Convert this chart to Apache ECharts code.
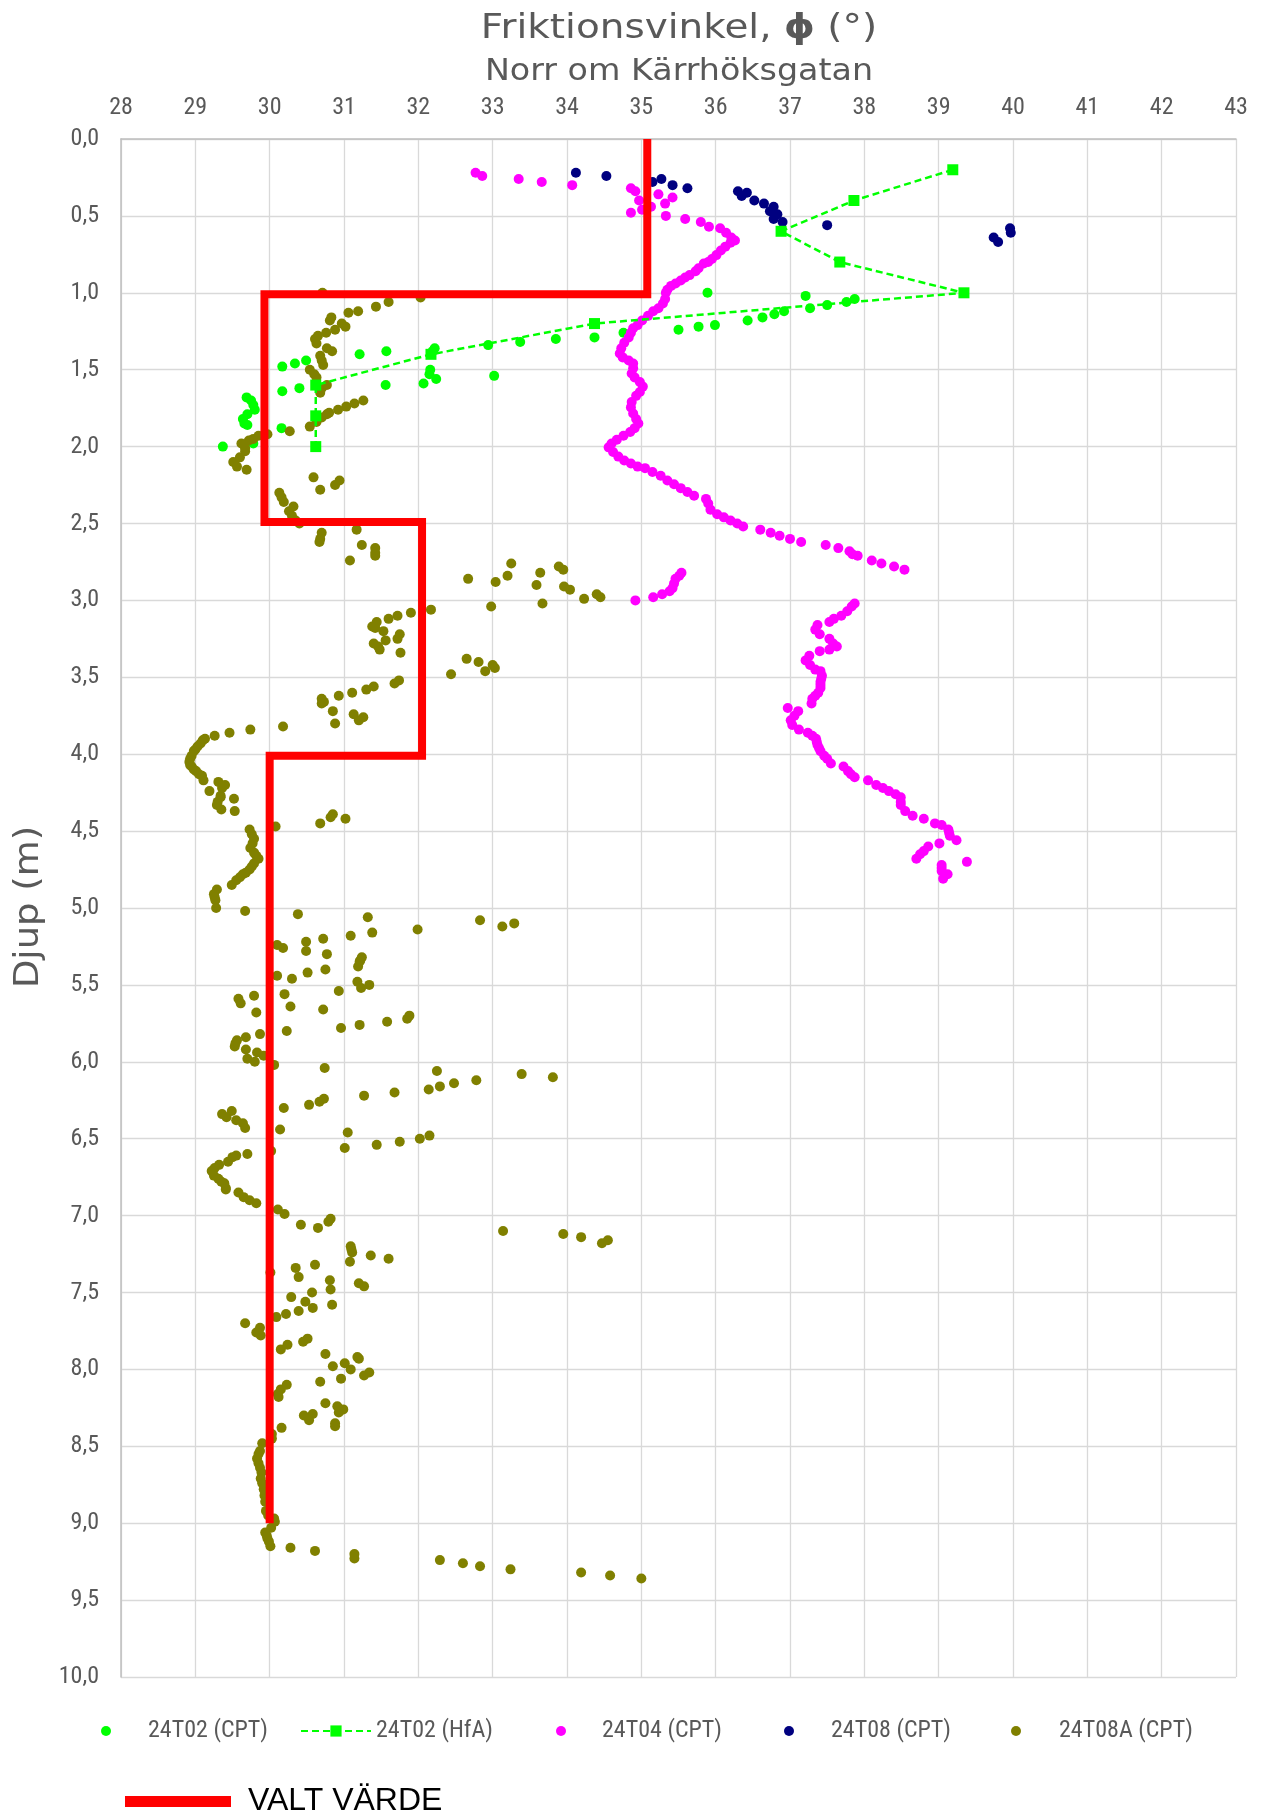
<!DOCTYPE html>
<html>
<head>
<meta charset="utf-8">
<script src="https://cdn.jsdelivr.net/npm/echarts@6/dist/echarts.min.js"></script>
<style>
html,body{margin:0;padding:0;background:#fff;}
#c{width:1262px;height:1812px;}
</style>
</head>
<body>
<div id="c"></div>
<script>
// ---- tick settings ----
const phiMin = 28, phiMax = 43, phiStep = 1;
const depthMin = 0, depthMax = 10, depthStep = 0.5;

// ---- series values: [phi (deg), depth (m)] ----
const t02CPT = [[35.89,1.00],[37.21,1.02],[37.87,1.04],[37.76,1.06],[37.50,1.08],[37.27,1.10],[36.92,1.12],[36.79,1.14],[36.63,1.16],[36.43,1.18],[35.99,1.21],[35.77,1.22],[35.50,1.24],[34.76,1.26],[34.37,1.29],[33.85,1.30],[33.37,1.32],[32.94,1.34],[32.22,1.36],[32.19,1.38],[31.57,1.38],[31.21,1.40],[30.49,1.44],[30.34,1.46],[30.17,1.48],[32.16,1.50],[32.15,1.53],[33.02,1.54],[32.24,1.56],[32.07,1.59],[31.56,1.60],[30.40,1.62],[30.17,1.64],[29.69,1.68],[29.75,1.70],[29.78,1.73],[29.80,1.76],[29.70,1.79],[29.64,1.82],[29.66,1.85],[29.70,1.86],[30.16,1.88],[29.78,1.98],[29.37,2.00]];

const hfaDepth = [0.2,0.4,0.6,0.8,1.0,1.2,1.4,1.6,1.8,2.0];
const hfaPhi = [39.19,37.86,36.88,37.67,39.34,34.37,32.17,30.62,30.62,30.62];

const t04CPT = [[32.77,0.22],[32.86,0.24],[33.35,0.26],[33.66,0.28],[34.07,0.30],[34.86,0.32],[34.92,0.34],[35.23,0.36],[35.42,0.38],[34.97,0.40],[35.32,0.42],[35.13,0.44],[35.01,0.46],[34.86,0.48],[35.33,0.50],[35.59,0.52],[35.80,0.54],[35.91,0.57],[36.06,0.58],[36.14,0.61],[36.21,0.64],[36.26,0.66],
[36.20,0.675],[36.13,0.70],[36.07,0.725],[36.01,0.755],[35.95,0.78],[35.90,0.80],[35.84,0.81],[35.77,0.84],[35.73,0.86],[35.65,0.885],[35.59,0.90],[35.53,0.92],[35.46,0.94],[35.40,0.955],[35.35,0.98],[35.33,1.00],[35.32,1.04],[35.29,1.07],[35.23,1.10],[35.16,1.12],[35.09,1.15],[35.01,1.18],[34.95,1.21],[34.89,1.23],[34.86,1.26],[34.83,1.29],[34.77,1.325],[34.73,1.36],[34.71,1.395],[34.75,1.42],[34.83,1.44],[34.89,1.46],[34.89,1.49],[34.87,1.525],[34.91,1.55],[34.98,1.58],[35.02,1.61],[34.98,1.645],[34.93,1.67],[34.87,1.71],[34.86,1.745],[34.89,1.785],[34.93,1.82],[34.96,1.85],[34.91,1.88],[34.85,1.905],[34.76,1.93],[34.67,1.955],[34.60,1.98],[34.56,2.005],[34.62,2.035],[34.69,2.065],[34.77,2.09],[34.86,2.11],[34.95,2.13],[35.05,2.14],[35.15,2.165],[35.26,2.19],[35.35,2.22],[35.44,2.245],[35.53,2.27],[35.62,2.295],[35.71,2.32],[35.87,2.34],[35.90,2.37],[35.93,2.41],[36.02,2.44],[36.11,2.46],[36.20,2.48],[36.29,2.50],[36.37,2.52],
[36.60,2.54],[36.74,2.56],[36.86,2.58],[37.00,2.60],[37.15,2.62],[37.48,2.64],[37.65,2.66],[37.80,2.68],[37.84,2.70],[37.91,2.71],[38.10,2.74],[38.23,2.76],[38.40,2.78],[38.54,2.80],
[35.54,2.82],[35.51,2.84],[35.46,2.86],[35.44,2.89],[35.42,2.92],[35.38,2.94],[35.28,2.96],[35.16,2.98],[34.92,3.00],
[37.87,3.02],[37.83,3.04],[37.77,3.07],[37.69,3.10],[37.59,3.12],[37.53,3.14],[37.37,3.16],[37.34,3.19],[37.40,3.22],[37.53,3.25],[37.58,3.28],[37.63,3.30],[37.53,3.32],[37.40,3.33],[37.26,3.36],[37.21,3.39],[37.27,3.42],[37.34,3.45],[37.41,3.46],[37.43,3.49],[37.42,3.51],[37.41,3.53],[37.41,3.55],[37.41,3.57],[37.38,3.60],[37.34,3.62],[37.30,3.64],[37.29,3.67],[36.97,3.70],[37.11,3.72],[37.06,3.75],[37.01,3.78],[37.03,3.81],[37.12,3.84],[37.24,3.86],[37.30,3.88],[37.35,3.90],[37.36,3.92],[37.37,3.94],[37.39,3.96],[37.41,3.98],[37.46,4.01],[37.50,4.03],[37.55,4.06],[37.72,4.08],[37.78,4.11],[37.82,4.13],[37.87,4.15],[38.05,4.17],[38.16,4.20],[38.25,4.22],[38.33,4.24],[38.42,4.26],[38.49,4.28],[38.49,4.31],[38.49,4.33],[38.55,4.37],[38.65,4.40],[38.80,4.42],[38.95,4.45],[39.04,4.46],[39.13,4.49],[39.14,4.51],[39.15,4.53],[39.24,4.56],[39.01,4.58],[38.86,4.60],[38.80,4.63],[38.75,4.65],[38.70,4.68],[39.38,4.70],[39.04,4.72],[39.04,4.74],[39.04,4.76],[39.12,4.78],[39.06,4.81]];

const t08CPT = [[34.12,0.22],[34.53,0.24],[35.15,0.28],[35.27,0.26],[35.42,0.30],[35.62,0.32],[36.30,0.34],[36.35,0.37],[36.42,0.35],[36.52,0.40],[36.65,0.42],[36.78,0.44],[36.73,0.47],[36.83,0.49],[36.78,0.52],[36.90,0.54],[37.50,0.56],[39.74,0.64],[39.80,0.67],[39.96,0.58],[39.97,0.61]];

const t08ACPT = [[30.71,1.00],[32.03,1.03],[31.60,1.06],[31.43,1.09],[31.19,1.12],[31.06,1.13],[30.83,1.16],[30.81,1.18],[30.97,1.20],[31.02,1.22],[30.88,1.24],[30.76,1.26],[30.65,1.28],[30.61,1.30],[30.63,1.33],[30.77,1.36],[30.84,1.38],[30.68,1.41],[30.70,1.44],[30.72,1.47],[30.54,1.50],[30.60,1.53],[30.63,1.55],[30.77,1.60],[30.70,1.62],[30.68,1.65],[31.26,1.70],[31.14,1.72],[31.03,1.74],[30.92,1.76],[30.80,1.78],[30.77,1.79],[30.70,1.81],[30.63,1.84],[30.54,1.87],[30.27,1.90],[29.97,1.92],[29.85,1.93],[29.78,1.95],[29.72,1.96],[29.62,1.98],[29.67,2.01],[29.67,2.03],[29.60,2.07],[29.51,2.10],[29.56,2.13],[29.69,2.15],[30.59,2.20],[30.94,2.22],[30.88,2.25],[30.68,2.28],[30.13,2.30],[30.16,2.33],[30.19,2.36],[30.32,2.39],[30.26,2.42],[30.30,2.45],[30.35,2.48],[30.40,2.50],[31.17,2.54],[30.70,2.56],[30.68,2.60],[30.67,2.62],[31.24,2.64],[31.42,2.66],[31.42,2.69],[31.42,2.71],[31.08,2.74],
[33.25,2.76],[33.89,2.78],[33.95,2.80],[33.64,2.82],[33.20,2.84],[32.67,2.86],[33.04,2.88],[33.59,2.90],[33.96,2.91],[34.04,2.93],[34.40,2.96],[34.45,2.98],[34.23,2.99],[33.67,3.02],[32.98,3.04],
[32.17,3.06],[31.90,3.08],[31.72,3.10],[31.60,3.12],[31.44,3.14],[31.38,3.17],[31.42,3.18],[31.53,3.20],[31.75,3.22],[31.72,3.25],[31.56,3.26],[31.40,3.28],[31.46,3.30],[31.48,3.32],[31.76,3.34],
[32.65,3.38],[32.81,3.40],[33.00,3.42],[33.03,3.44],[32.90,3.46],[32.44,3.48],
[31.74,3.52],[31.68,3.54],[31.40,3.56],[31.30,3.58],[31.11,3.60],[30.93,3.62],[30.70,3.64],[30.73,3.66],[30.70,3.67],[30.85,3.72],[31.13,3.74],[31.26,3.76],[31.20,3.78],[30.88,3.80],
[30.18,3.82],[29.74,3.84],[29.46,3.86],[29.26,3.88],[29.13,3.90],[29.10,3.91],[29.07,3.93],[29.03,3.95],[29.00,3.97],[28.98,3.98],[28.95,4.01],[28.93,4.03],[28.92,4.05],[28.93,4.07],[28.95,4.08],[28.98,4.10],[29.01,4.11],[29.05,4.13],[29.09,4.14],[29.11,4.17],[29.31,4.18],[29.40,4.20],[29.36,4.22],[29.19,4.24],[29.34,4.27],[29.34,4.28],[29.52,4.29],[29.30,4.31],[29.29,4.33],[29.35,4.36],[29.53,4.37],
[30.85,4.39],[30.82,4.41],[31.02,4.42],[30.68,4.45],[30.08,4.47],
[29.73,4.49],[29.76,4.52],[29.79,4.55],[29.77,4.58],[29.74,4.61],[29.79,4.64],[29.82,4.66],[29.85,4.68],[29.79,4.71],[29.76,4.73],[29.73,4.75],[29.68,4.77],[29.64,4.78],[29.60,4.80],[29.55,4.82],[29.49,4.85],[29.29,4.88],[29.25,4.91],[29.26,4.93],[29.27,4.95],[29.28,5.00],[29.67,5.02],
[30.38,5.04],[31.32,5.06],[32.83,5.08],[33.29,5.10],[33.13,5.12],[31.99,5.14],[31.38,5.16],[31.09,5.18],[30.72,5.20],[30.49,5.22],[30.10,5.24],[30.18,5.26],[30.49,5.28],[30.77,5.30],[31.24,5.32],[31.22,5.34],[31.21,5.35],[31.19,5.38],[30.75,5.40],[30.51,5.42],[30.10,5.44],[30.30,5.46],[31.18,5.48],[31.34,5.50],[31.23,5.52],[30.93,5.54],[30.20,5.56],[29.79,5.57],[29.58,5.59],
[29.61,5.62],[30.28,5.64],[30.72,5.66],[29.82,5.68],[31.88,5.70],[31.85,5.72],[31.58,5.74],[31.21,5.76],[30.96,5.78],[30.23,5.80],[29.87,5.82],[29.68,5.84],[29.56,5.86],[29.54,5.88],[29.53,5.90],[29.68,5.92],[29.83,5.94],[29.92,5.96],[29.70,5.98],[29.80,6.00],[30.06,6.02],[30.74,6.04],
[32.25,6.06],[33.39,6.08],[33.81,6.10],[32.78,6.12],[32.48,6.14],[32.29,6.16],[32.14,6.18],[31.68,6.20],[31.27,6.22],[30.73,6.24],[30.67,6.26],[30.53,6.28],[30.19,6.30],[29.49,6.32],[29.36,6.34],[29.42,6.36],[29.55,6.38],[29.64,6.40],[29.67,6.43],[30.14,6.44],[31.05,6.46],
[32.15,6.48],[32.02,6.50],[31.75,6.52],[31.44,6.54],[31.01,6.56],
[30.02,6.58],[29.70,6.60],[29.55,6.61],[29.50,6.62],[29.44,6.65],[29.32,6.67],[29.26,6.69],[29.22,6.71],[29.25,6.74],[29.31,6.76],[29.35,6.78],[29.39,6.79],[29.41,6.82],[29.41,6.83],[29.58,6.85],[29.65,6.88],[29.73,6.90],[29.82,6.92],[30.11,6.96],[30.20,6.99],
[30.82,7.02],[30.79,7.04],[30.42,7.06],[30.65,7.08],[33.14,7.10],[33.95,7.12],[34.19,7.14],[34.55,7.16],[34.47,7.18],
[31.09,7.20],[31.10,7.22],[31.11,7.24],[31.36,7.26],[31.60,7.28],[31.08,7.30],[30.61,7.32],[30.35,7.34],[30.01,7.37],[30.39,7.40],[30.81,7.42],[31.20,7.44],[31.27,7.46],[30.82,7.48],[30.57,7.50],[30.29,7.53],[30.48,7.56],[30.84,7.58],[30.58,7.60],[30.39,7.62],[30.22,7.64],[30.09,7.66],
[29.67,7.70],[29.87,7.73],[29.82,7.76],[29.88,7.78],[30.51,7.80],[30.45,7.82],[30.24,7.84],[30.15,7.87],[30.75,7.90],[31.18,7.92],[31.20,7.93],[31.01,7.96],[30.85,7.98],[31.09,8.00],[31.34,8.02],[31.27,8.04],[30.96,8.06],[30.68,8.08],[30.23,8.10],[30.15,8.13],[30.11,8.16],
[30.12,8.18],[30.75,8.22],[30.91,8.24],[30.99,8.26],[30.93,8.28],[30.58,8.29],[30.46,8.30],[30.53,8.33],[30.88,8.35],[30.88,8.37],[30.16,8.38],[30.03,8.42],[30.03,8.45],[29.90,8.48],
[29.87,8.53],[29.85,8.55],[29.83,8.58],[29.85,8.61],[29.87,8.64],[29.89,8.67],[29.88,8.71],[29.90,8.74],[29.92,8.78],[29.93,8.82],[29.94,8.86],[29.95,8.92],[29.98,8.95],[30.06,8.97],[30.07,8.99],
[30.02,9.03],[29.94,9.06],[29.96,9.08],[29.97,9.10],[29.99,9.12],[30.01,9.15],[30.28,9.16],[30.61,9.18],[31.14,9.20],[31.14,9.23],[32.29,9.24],[32.60,9.26],[32.83,9.28],[33.24,9.30],[34.19,9.32],[34.58,9.34],[35.00,9.36]];

// chosen design value (VALT VÄRDE) polyline
const valtPhi   = [35.08, 35.08, 29.93, 29.93, 32.05, 32.05, 30.00, 30.00];
const valtDepth = [0.00,  1.01,  1.01,  2.49,  2.49,  4.01,  4.01,  9.00];

// ---- build ----
const FONT = "'Liberation Sans Narrow', 'Roboto Condensed', Roboto, sans-serif";
const TFONT = "'DejaVu Sans', sans-serif";
const GREY = '#595959';
const zip = (xs, ys) => xs.map((x, i) => [x, ys[i]]);

const chart = echarts.init(document.getElementById('c'), null, {width:1262, height:1812});

function dotLegend(name, center, textStart) {
  return {
    data: [{name: name, icon: 'circle'}], left: center - 5, top: 1718, padding: 0,
    itemWidth: 10, itemHeight: 10, selectedMode: false,
    textStyle: {fontFamily: FONT, fontSize: 24, color: GREY, lineHeight: 26,
      padding: [0, 0, 0, textStart - (center - 5 + 15)]}
  };
}

const option = {
  animation: false,
  backgroundColor: '#fff',
  grid: {left: 121, top: 139, width: 1115, height: 1538, containLabel: false},
  xAxis: {
    type: 'value', position: 'top', min: phiMin, max: phiMax, interval: phiStep,
    axisLine: {show: true, onZero: false, lineStyle: {color: '#bfbfbf', width: 1.5}},
    axisTick: {show: false},
    splitLine: {show: true, lineStyle: {color: '#d9d9d9', width: 1.3}},
    axisLabel: {fontFamily: FONT, fontSize: 24, color: GREY, margin: 19}
  },
  yAxis: {
    type: 'value', inverse: true, min: depthMin, max: depthMax, interval: depthStep,
    axisLine: {show: true, onZero: false, lineStyle: {color: '#bfbfbf', width: 1.5}},
    axisTick: {show: false},
    splitLine: {show: true, lineStyle: {color: '#d9d9d9', width: 1.3}},
    axisLabel: {fontFamily: FONT, fontSize: 24, color: GREY, margin: 22,
      formatter: v => v.toFixed(1).replace('.', ',')}
  },
  legend: [
    dotLegend('24T02 (CPT)', 106, 148),
    {data: ['24T02 (HfA)'], left: 300, top: 1718, padding: 0, itemWidth: 70, itemHeight: 14, selectedMode: false,
     textStyle: {fontFamily: FONT, fontSize: 24, color: GREY, lineHeight: 26}},
    dotLegend('24T04 (CPT)', 561, 602),
    dotLegend('24T08 (CPT)', 789, 831),
    dotLegend('24T08A (CPT)', 1016, 1059),
    {data: [{name: 'VALT VÄRDE', icon: 'rect'}], left: 125, top: 1783, padding: 0,
     itemWidth: 106, itemHeight: 11, symbolKeepAspect: false, selectedMode: false,
     textStyle: {fontFamily: "'Liberation Sans', Arial, sans-serif", fontSize: 32, color: '#000', padding: [3,0,0,12], lineHeight: 34}}
  ],
  graphic: [
    {type: 'text', x: 679, y: 29, scaleX: 1.18, style: {
      text: 'Friktionsvinkel, {b|ϕ} (°)', fill: GREY, fontFamily: TFONT, fontSize: 33,
      textAlign: 'center', textVerticalAlign: 'middle', align: 'center', verticalAlign: 'middle',
      rich: {b: {fontWeight: 'bold', fontFamily: TFONT, fontSize: 33, fill: GREY}}}},
    {type: 'text', x: 679, y: 72, scaleX: 1.11, style: {
      text: 'Norr om Kärrhöksgatan', fill: GREY, fontFamily: TFONT, fontSize: 30,
      textAlign: 'center', textVerticalAlign: 'middle', align: 'center', verticalAlign: 'middle'}},
    {type: 'text', x: 29, y: 907, rotation: Math.PI / 2, scaleX: 1.12, style: {
      text: 'Djup (m)', fill: GREY, fontFamily: TFONT, fontSize: 33,
      textAlign: 'center', textVerticalAlign: 'middle', align: 'center', verticalAlign: 'middle'}}
  ],
  series: [
    {name: '24T02 (CPT)', type: 'scatter', data: t02CPT, symbol: 'circle', symbolSize: 10,
     itemStyle: {color: '#00ff00', opacity: 1}},
    {name: '24T02 (HfA)', type: 'line', data: zip(hfaPhi, hfaDepth), symbol: 'rect', symbolSize: 11,
     showAllSymbol: true, itemStyle: {color: '#00ff00', opacity: 1},
     lineStyle: {color: '#00ff00', width: 2.5, type: [7, 4]}},
    {name: '24T04 (CPT)', type: 'scatter', data: t04CPT, symbol: 'circle', symbolSize: 10,
     itemStyle: {color: '#ff00ff', opacity: 1}},
    {name: '24T08 (CPT)', type: 'scatter', data: t08CPT, symbol: 'circle', symbolSize: 10,
     itemStyle: {color: '#000080', opacity: 1}},
    {name: '24T08A (CPT)', type: 'scatter', data: t08ACPT, symbol: 'circle', symbolSize: 10,
     itemStyle: {color: '#808000', opacity: 1}},
    {name: 'VALT VÄRDE', type: 'line', data: zip(valtPhi, valtDepth), symbol: 'none',
     itemStyle: {color: '#ff0000'},
     lineStyle: {color: '#ff0000', width: 8, cap: 'butt', join: 'miter'}}
  ]
};
chart.setOption(option);
</script>
</body>
</html>
